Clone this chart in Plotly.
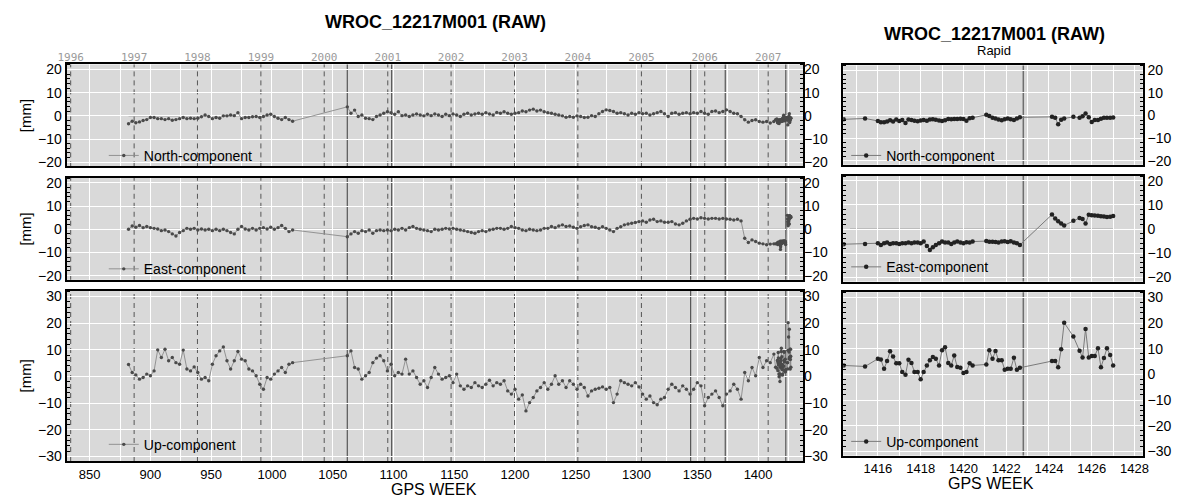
import plotly.graph_objects as go

# ------------------------------------------------------------------ data
# weekly RAW solutions (every 3rd week), segment A starts 882, segment B starts 1062
north_A = [-3.4, -2.3, -3.0, -2.6, -2.0, -1.6, -0.7, -0.7, -1.2, -1.2,
           -1.6, -1.2, -1.9, -1.6, -1.2, -0.7, -1.2, -1.0, -1.2, -1.0,
           -0.4, 0.4, -0.3, -1.2, -0.7, -1.0, 0.0, 0.0, 0.4, 0.1,
           1.4, -1.2, -0.7, -0.7, -0.4, -0.3, -0.7, -0.3, 0.4, 0.7,
           -0.3, -1.0, -1.6, -0.7, -1.6, -2.3]
north_B = [3.9, 1.1, 2.5, -0.3, 0.4, -1.0, -1.2, -1.6, -0.3, 0.4,
           1.1, 1.8, 1.4, 0.7, 1.8, 0.1, 0.4, -0.3, 0.4, 0.8,
           0.4, 0.0, 0.7, 0.1, 0.8, 0.4, -0.3, 0.7, 0.1, 0.8,
           0.4, -0.3, 0.7, 1.1, 0.4, 0.8, 1.1, 0.7, 1.4, 0.8,
           0.4, 1.5, 1.1, 1.8, 1.1, 0.7, 1.1, 1.4, 2.1, 1.8,
           2.5, 2.9, 2.1, 2.5, 1.8, 1.4, 1.1, 0.7, 0.4, 0.0,
           -0.6, -0.3, -0.6, 0.0, -0.3, -0.7, -0.6, 0.1, -0.3, 0.9,
           1.9, 2.6, 2.3, 1.9, 1.1, 1.4, 0.9, 0.4, 1.1, 0.7,
           1.4, 0.9, 1.1, 0.4, 0.9, 1.4, 1.9, 0.9, -0.3, 1.1,
           1.4, 0.7, 1.1, 1.4, 0.9, 1.4, 1.1, 1.9, 1.1, 0.7,
           1.9, 2.1, 1.4, 1.9, 2.6, 1.9, 1.1, 0.9, -0.3, -1.7,
           -2.7, -2.0, -1.7, -2.4, -2.7, -2.4, -3.1, -2.4]
east_A = [0.0, 1.4, 0.9, 1.6, 0.7, 1.2, 0.7, 0.4, 0.1, -0.6,
          -0.3, -1.0, -2.0, -2.9, -1.4, -0.6, 0.4, 0.0, 0.4, -0.3,
          0.1, -0.3, 0.0, -0.6, 0.0, -0.6, 0.0, -0.6, -1.4, -2.0,
          0.0, 1.2, 0.1, -0.3, 0.4, -0.3, 0.4, 0.7, 0.1, 0.9,
          0.0, 0.7, 1.6, 0.4, -1.0, -0.3]
east_B = [-3.2, -2.0, -1.0, -1.7, -0.6, -1.0, -0.3, -1.7, -0.6, -0.3,
          -0.6, -0.3, -0.6, 0.0, -0.3, 0.4, -0.3, 0.7, 1.2, 0.4,
          0.0, -0.3, -0.6, -1.0, 0.0, -0.3, 0.0, 0.4, 0.1, 0.4,
          0.0, -0.3, -0.6, -1.0, -1.4, -1.7, -1.0, -0.6, -1.0, -0.3,
          0.0, 0.4, 0.4, 0.0, 0.4, 1.2, 0.7, 0.4, -0.3, -0.6,
          0.0, -0.3, -0.6, -0.3, 0.4, 0.4, 1.2, 0.7, 1.4, 1.9,
          1.2, 1.4, 0.9, 0.4, 1.1, 1.6, 1.9, 1.1, 0.9, 0.4,
          1.1, 0.4, -0.3, -1.0, 0.4, 1.1, 1.9, 2.3, 2.6, 2.9,
          3.3, 3.6, 3.0, 4.0, 4.3, 3.3, 3.6, 3.0, 3.0, 3.3,
          2.3, 1.9, 2.6, 3.6, 4.3, 4.7, 4.4, 5.0, 4.7, 4.4,
          4.7, 4.7, 4.4, 4.7, 4.4, 4.3, 4.0, 4.3, 3.6, -3.9,
          -5.7, -4.6, -5.3, -6.0, -6.3, -6.7, -6.4, -6.3]
up_A = [4.5, 1.5, 0.6, -1.0, -0.4, 0.9, 0.3, 2.1, 10.0, 7.1,
        10.2, 5.9, 7.1, 5.2, 4.6, 9.9, 2.8, 2.1, 3.6, 1.5,
        -1.0, -0.4, -1.6, 4.6, 7.8, 9.6, 11.1, 5.9, 2.8, 5.9,
        9.4, 6.5, 5.9, 2.8, 2.1, 0.3, -2.9, -4.8, -0.4, -1.0,
        0.9, 2.1, 3.4, 1.5, 4.6, 5.2]
up_B = [7.8, 9.6, 3.4, 2.8, -1.0, 0.3, 1.5, 5.2, 6.9, 7.8,
        5.9, 2.1, 4.6, 0.3, 1.5, 0.9, 6.5, 0.9, 2.1, -0.4,
        -2.9, -1.6, -4.1, -0.4, 3.4, 0.9, -1.0, -0.4, 0.3, -2.3,
        0.9, -3.5, -4.8, -3.5, -4.1, -2.3, -3.5, -4.1, -2.9, -1.4,
        -3.5, -2.3, -2.9, -1.6, -5.4, -6.6, -4.8, -8.5, -6.9, -12.9,
        -9.8, -7.9, -5.4, -4.1, -2.3, -4.8, -2.9, 0.3, -2.9, -1.6,
        -4.1, -1.6, -2.9, -4.8, -2.9, -4.1, -7.3, -5.4, -4.8, -4.4,
        -3.9, -4.8, -4.1, -9.8, -6.6, -1.6, -2.3, -2.9, -3.5, -2.3,
        -3.9, -6.6, -8.5, -7.3, -9.8, -10.6, -8.5, -7.9, -4.8, -2.9,
        -4.1, -5.4, -3.5, -4.8, -6.6, -4.8, -2.3, -3.5, -11.0, -7.9,
        -6.6, -5.4, -7.9, -11.0, -6.6, -5.4, -2.9, -4.8, -8.5, 1.5,
        -1.6, 3.4, 0.3, 7.1, 3.4, 5.9, 5.2, 8.4]

# Rapid (daily) solutions
rapid_weeks = [1414.40, 1415.40,
               1416.00, 1416.14, 1416.29, 1416.43, 1416.57, 1416.71, 1416.86, 1417.00,
               1417.14, 1417.29, 1417.43, 1417.57, 1417.71, 1417.86, 1418.00, 1418.14,
               1418.29, 1418.43, 1418.57, 1418.71, 1418.86, 1419.00, 1419.14, 1419.29,
               1419.43, 1419.57, 1419.71, 1419.86, 1420.00, 1420.14, 1420.29, 1420.43,
               1421.07, 1421.21, 1421.36, 1421.50, 1421.64, 1421.79, 1421.93, 1422.07,
               1422.21, 1422.36, 1422.50, 1422.64,
               1424.14, 1424.29, 1424.43, 1424.57, 1424.71, 1425.14, 1425.43, 1425.57,
               1425.71, 1425.86, 1426.00, 1426.14, 1426.29, 1426.43, 1426.57, 1426.71,
               1426.86, 1427.00]
rapid_north = [-1.7, -1.3,
               -2.4, -3.0, -3.0, -2.6, -2.1, -2.6, -1.8, -2.4,
               -2.0, -3.3, -1.8, -2.0, -2.3, -2.5, -2.2, -2.0,
               -2.3, -1.8, -1.7, -1.9, -2.2, -2.4, -2.1, -1.5,
               -1.6, -1.5, -1.5, -1.4, -1.5, -2.3, -1.2, -1.0,
               0.3, -0.2, -1.0, -1.3, -1.8, -2.1, -1.6, -1.3,
               -1.7, -2.0, -1.3, -0.8,
               -0.6, -1.0, -3.9, -1.9, -1.3, -0.6, -1.0, -0.3,
               0.9, -0.8, -2.9, -2.0, -2.0, -1.4, -1.0, -1.0,
               -1.0, -0.9]
rapid_east = [-6.3, -6.2,
              -5.9, -6.6, -5.9, -5.6, -6.2, -5.9, -5.9, -6.2,
              -5.9, -5.9, -5.6, -5.9, -5.6, -5.6, -5.9, -5.2,
              -7.0, -8.7, -7.6, -6.6, -5.9, -5.2, -5.6, -5.6,
              -6.2, -5.6, -5.2, -5.6, -5.9, -5.5, -5.6, -5.2,
              -5.0, -5.3, -5.3, -5.4, -5.6, -5.2, -5.1, -5.4,
              -5.1, -5.6, -5.9, -6.6,
              6.0, 4.4, 3.2, 2.3, 1.5, 3.4, 4.6, 4.2,
              2.3, 5.9, 5.7, 5.6, 5.5, 5.3, 5.2, 5.0,
              5.1, 5.4]
rapid_up = [3.5, 3.1,
            6.1, 5.8, 2.2, 5.2, 9.0, 7.0, 4.4, 4.4,
            0.9, -0.1, 5.7, 4.5, 0.9, 0.9, -1.9, 0.9,
            3.5, 5.5, 6.8, 6.1, 3.5, 9.4, 10.6, 4.5,
            3.5, 7.4, 2.9, 2.6, 0.5, 0.9, 4.4, 3.5,
            3.9, 9.4, 6.1, 9.1, 5.5, 5.5, 1.8, 2.2,
            2.2, 6.5, 1.8, 2.6,
            5.2, 5.2, 2.8, 9.8, 20.2, 14.8, 9.2, 6.6,
            17.7, 6.6, 7.2, 7.2, 10.2, 2.8, 6.4, 10.2,
            7.6, 3.5]

components = ["North-component", "East-component", "Up-component"]
years = [1996, 1997, 1998, 1999, 2000, 2001, 2002, 2003, 2004, 2005, 2006, 2007]
year_weeks = [834.4, 886.6, 938.7, 990.9, 1043.0, 1095.3, 1147.4, 1199.6, 1251.7, 1304.0, 1356.1, 1408.3]
event_weeks = [1062.0, 1098.5, 1344.5, 1373.0, 1422.8]
rapid_event_weeks = [1422.8]
zero_left = [882, 1427]
zero_right = [1414.7, 1427]

seg_A_start, seg_B_start, seg_step = 882, 1062, 3


def weekly(start, n):
    return [start + seg_step * i for i in range(n)]


# ------------------------------------------------------------------ style / layout
FONT = "Liberation Sans, Arial, Helvetica, sans-serif"
W, H = 1177, 501
BG = "#d9d9d9"


def ydom(top, bot):
    return [1 - bot / H, 1 - top / H]


L_X = [58.3 / W, 804.3 / W]
R_X = [845.0 / W, 1148.3 / W]
L_Y = [ydom(62.3, 165.7), ydom(177.3, 280.7), ydom(292.0, 464.5)]
R_Y = [ydom(63.3, 164.0), ydom(175.0, 282.5), ydom(293.3, 459.0)]
Y_RANGES = [[-21.8, 22.2], [-21.8, 22.2], [-31.7, 32.1]]
L_XRANGE = [831, 1437]
R_XRANGE = [1414.38, 1428.38]

fig = go.Figure()

# right-hand tick labels of the left panels are drawn by these overlay axes
for xa, ya in [("x", "y7"), ("x2", "y8"), ("x3", "y9")]:
    fig.add_trace(go.Scatter(x=[None], y=[None], xaxis=xa, yaxis=ya, mode="markers",
                             showlegend=False, hoverinfo="skip"))
fig.add_trace(go.Scatter(x=[None], y=[None], xaxis="x7", yaxis="y", mode="markers",
                         showlegend=False, hoverinfo="skip"))

series = [(north_A, north_B, rapid_north), (east_A, east_B, rapid_east), (up_A, up_B, rapid_up)]

for i, (A, B, R) in enumerate(series):
    xs = weekly(seg_A_start, len(A)) + weekly(seg_B_start, len(B)) + rapid_weeks
    ys = A + B + R
    sfx_l = "" if i == 0 else str(i + 1)
    sfx_r = str(i + 4)
    fig.add_trace(go.Scatter(
        x=xs, y=ys, mode="lines+markers", name=components[i],
        xaxis="x" + sfx_l, yaxis="y" + sfx_l,
        line=dict(color="#8a8a8a", width=0.9),
        marker=dict(size=3.4, color="#4a4a4a"),
        legend="legend" + sfx_l, showlegend=True))
    fig.add_trace(go.Scatter(
        x=rapid_weeks, y=R, mode="lines+markers", name=components[i],
        xaxis="x" + sfx_r, yaxis="y" + sfx_r,
        line=dict(color="#7a7a7a", width=1),
        marker=dict(size=4.5, color="#222222"),
        legend="legend" + sfx_r, showlegend=True))

tickfont_y = dict(family=FONT, size=14, color="black")
tickfont_x = dict(family=FONT, size=13, color="black")

layout = dict(
    width=W, height=H, autosize=False,
    margin=dict(l=0, r=0, t=0, b=0),
    paper_bgcolor="white", plot_bgcolor=BG,
    font=dict(family=FONT, color="black"),
    hovermode=False,
)

for i in range(3):
    sfx_l = "" if i == 0 else str(i + 1)
    sfx_r = str(i + 4)
    bottom = (i == 2)
    layout["xaxis" + sfx_l] = dict(
        domain=L_X, anchor="y" + sfx_l, range=L_XRANGE,
        showline=True, linecolor="black", linewidth=2, mirror=True,
        showgrid=True, gridcolor="white", gridwidth=1, zeroline=False,
        tickmode="linear", tick0=850, dtick=50, ticks="",
        showticklabels=bottom, tickfont=tickfont_x,
        minor=dict(tick0=825, dtick=25, showgrid=True, gridcolor="white", gridwidth=1))
    layout["yaxis" + sfx_l] = dict(
        domain=L_Y[i], anchor="x" + sfx_l, range=Y_RANGES[i],
        showline=True, linecolor="black", linewidth=2, mirror="allticks",
        showgrid=True, gridcolor="white", gridwidth=1, zeroline=False,
        tickmode="linear", tick0=0, dtick=10, ticks="", side="left",
        tickfont=tickfont_y,
        minor=dict(dtick=2, ticks="inside", ticklen=3, tickcolor="black", tickwidth=1, showgrid=False))
    layout["yaxis" + str(i + 7)] = dict(
        overlaying="y" + sfx_l, anchor="x" + sfx_l, side="right", range=Y_RANGES[i],
        showline=False, showgrid=False, zeroline=False,
        tickmode="linear", tick0=0, dtick=10, ticks="", tickfont=tickfont_y)
    layout["xaxis" + sfx_r] = dict(
        domain=R_X, anchor="y" + sfx_r, range=R_XRANGE,
        showline=True, linecolor="black", linewidth=2, mirror=True,
        showgrid=True, gridcolor="white", gridwidth=1, zeroline=False,
        tickmode="linear", tick0=1416, dtick=2, ticks="",
        showticklabels=bottom, tickfont=tickfont_x,
        minor=dict(tick0=1415, dtick=1, showgrid=True, gridcolor="white", gridwidth=1))
    layout["yaxis" + sfx_r] = dict(
        domain=R_Y[i], anchor="x" + sfx_r, range=Y_RANGES[i],
        showline=True, linecolor="black", linewidth=2, mirror="allticks",
        showgrid=True, gridcolor="white", gridwidth=1, zeroline=False,
        tickmode="linear", tick0=0, dtick=10, ticks="", side="right",
        tickfont=tickfont_y,
        minor=dict(dtick=2, ticks="inside", ticklen=3, tickcolor="black", tickwidth=1, showgrid=False))

layout["xaxis7"] = dict(
    overlaying="x", anchor="y", side="top", range=L_XRANGE,
    showline=False, showgrid=False, zeroline=False, ticks="",
    tickmode="array", tickvals=year_weeks, ticktext=[str(y) for y in years],
    tickfont=dict(family="DejaVu Sans Mono, monospace", size=11, color="#9a9a9a"))

leg_left_y = [1 - 155 / H, 1 - 270 / H, 1 - 448 / H]
leg_right_y = [1 - 155 / H, 1 - 268 / H, 1 - 445 / H]
for i in range(3):
    sfx_l = "" if i == 0 else str(i + 1)
    sfx_r = str(i + 4)
    common = dict(xanchor="left", yanchor="middle", bgcolor="rgba(0,0,0,0)",
                  borderwidth=0, font=dict(family=FONT, size=14, color="black"),
                  itemwidth=30, tracegroupgap=0)
    layout["legend" + sfx_l] = dict(x=96 / W, y=leg_left_y[i], **common)
    layout["legend" + sfx_r] = dict(x=848 / W, y=leg_right_y[i], **common)

shapes = []
for i in range(3):
    sfx_l = "" if i == 0 else str(i + 1)
    sfx_r = str(i + 4)
    for w in year_weeks:
        shapes.append(dict(type="line", xref="x" + sfx_l, yref="y" + sfx_l + " domain",
                           x0=w, x1=w, y0=0, y1=1, layer="below",
                           line=dict(color="#555555", width=1, dash="5px,4px")))
    for w in event_weeks:
        shapes.append(dict(type="line", xref="x" + sfx_l, yref="y" + sfx_l + " domain",
                           x0=w, x1=w, y0=0, y1=1, layer="below",
                           line=dict(color="#555555", width=1.2)))
    for w in rapid_event_weeks:
        shapes.append(dict(type="line", xref="x" + sfx_r, yref="y" + sfx_r + " domain",
                           x0=w, x1=w, y0=0, y1=1, layer="below",
                           line=dict(color="#6e6e6e", width=1.5)))
    shapes.append(dict(type="line", xref="x" + sfx_l, yref="y" + sfx_l,
                       x0=zero_left[0], x1=zero_left[1], y0=0, y1=0, layer="below",
                       line=dict(color="#9a9a9a", width=1)))
    shapes.append(dict(type="line", xref="x" + sfx_r, yref="y" + sfx_r,
                       x0=zero_right[0], x1=zero_right[1], y0=0, y1=0, layer="below",
                       line=dict(color="#9a9a9a", width=1)))
layout["shapes"] = shapes

ann = []
ann.append(dict(text="<b>WROC_12217M001 (RAW)</b>", x=432 / W, y=1 - 19 / H, xref="paper", yref="paper",
                showarrow=False, xanchor="center", yanchor="middle", font=dict(family=FONT, size=18, color="black")))
ann.append(dict(text="<b>WROC_12217M001 (RAW)</b>", x=998 / W, y=1 - 31 / H, xref="paper", yref="paper",
                showarrow=False, xanchor="center", yanchor="middle", font=dict(family=FONT, size=18, color="black")))
ann.append(dict(text="Rapid", x=998 / W, y=1 - 48 / H, xref="paper", yref="paper",
                showarrow=False, xanchor="center", yanchor="middle", font=dict(family=FONT, size=13, color="black")))
ann.append(dict(text="GPS WEEK", x=430 / W, y=1 - 493 / H, xref="paper", yref="paper",
                showarrow=False, xanchor="center", yanchor="middle", font=dict(family=FONT, size=16, color="black")))
ann.append(dict(text="GPS WEEK", x=995 / W, y=1 - 487 / H, xref="paper", yref="paper",
                showarrow=False, xanchor="center", yanchor="middle", font=dict(family=FONT, size=16, color="black")))
for yc in [114, 229, 378]:
    ann.append(dict(text="[mm]", x=17 / W, y=1 - yc / H, xref="paper", yref="paper", textangle=-90,
                    showarrow=False, xanchor="center", yanchor="middle", font=dict(family=FONT, size=15, color="black")))
layout["annotations"] = ann

fig.update_layout(**layout)
fig.write_html("out.html")
